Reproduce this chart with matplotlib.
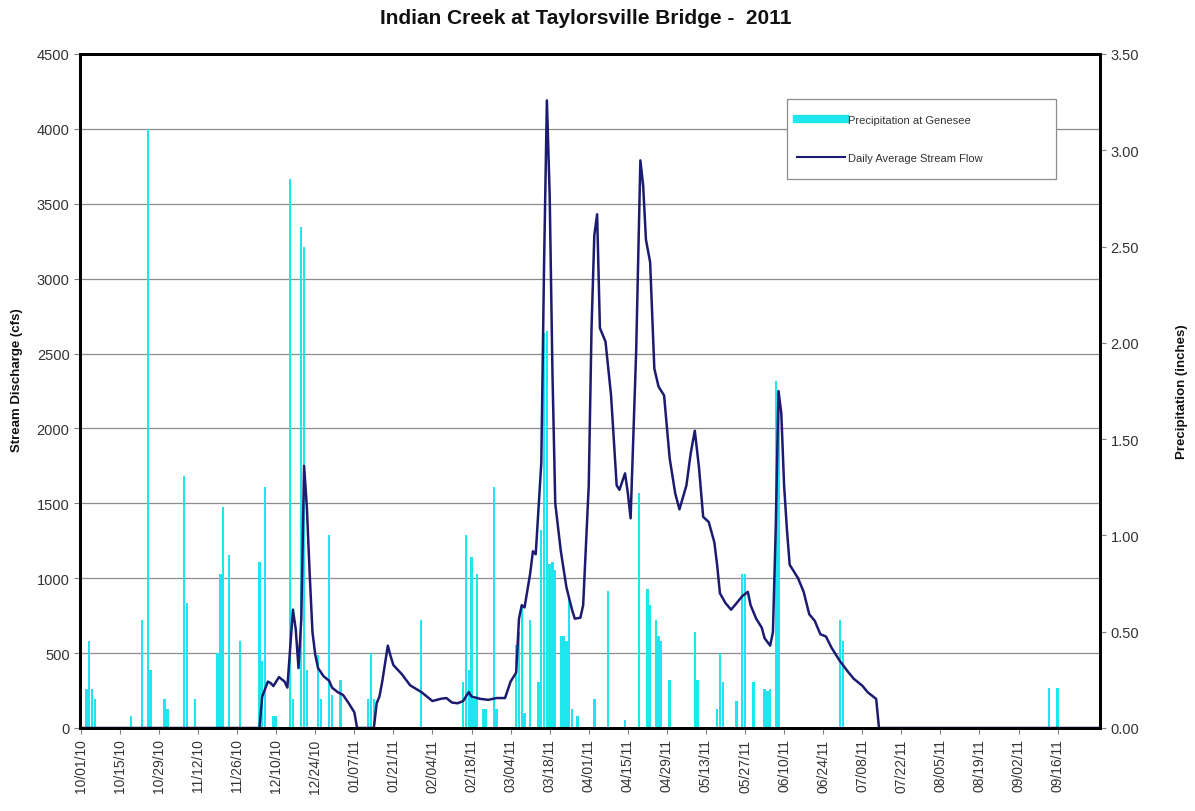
import numpy as np
import matplotlib
matplotlib.use('Agg')
import matplotlib.pyplot as plt
import matplotlib.dates as mdates
from matplotlib.ticker import FixedLocator, FormatStrFormatter
from matplotlib.lines import Line2D
from matplotlib.patches import Rectangle
import datetime as dt

plt.rcParams['font.family'] = ['Liberation Sans', 'DejaVu Sans']

# --- Data (day offsets from 10/01/10) ---
START = dt.date(2010, 10, 1)

precip_day = [2, 3, 4, 5, 18, 22, 24, 25, 30, 31, 37, 38, 41, 49, 50, 51, 53, 57,
              64, 65, 66, 69, 70, 75, 76, 79, 80, 81, 85, 86, 89, 90, 93,
              103, 104, 105, 122, 137, 138, 139, 140, 141, 142, 144, 145, 148, 149,
              156, 157, 158, 159, 161, 164, 165, 166, 167, 168, 169, 170, 172, 173,
              174, 175, 176, 178, 184, 189, 195, 200, 203, 204, 206, 207, 208, 211,
              220, 221, 228, 229, 230, 235, 237, 238, 241, 245, 246, 247, 249, 250,
              272, 273, 347, 350]
precip_in = [0.20, 0.45, 0.20, 0.15, 0.06, 0.56, 3.11, 0.30, 0.15, 0.10, 1.31, 0.65, 0.15,
             0.39, 0.80, 1.15, 0.90, 0.45,
             0.86, 0.35, 1.25, 0.06, 0.06, 2.85, 0.15, 2.60, 2.50, 0.30, 0.38, 0.15, 1.00, 0.17, 0.25,
             0.15, 0.39, 0.15, 0.56, 0.24, 1.00, 0.30, 0.89, 0.15, 0.80, 0.10, 0.10, 1.25, 0.10,
             0.43, 0.50, 0.63, 0.08, 0.56, 0.24, 1.03, 2.05, 2.06, 0.85, 0.86, 0.82, 0.48, 0.48,
             0.45, 0.68, 0.10, 0.06, 0.15, 0.71, 0.04, 1.22, 0.72, 0.64, 0.56, 0.48, 0.45, 0.25,
             0.50, 0.25, 0.10, 0.39, 0.24, 0.14, 0.80, 0.80, 0.24, 0.20, 0.19, 0.20, 1.80, 1.75,
             0.56, 0.45, 0.21, 0.21]

flow_day = [0, 64, 65, 67, 68, 69, 70, 71, 73, 74, 76, 77, 78, 79, 80, 81, 82, 83, 84, 85,
            87, 89, 90, 92, 94, 96, 98, 99, 105, 106, 107, 108, 110, 111, 112, 115, 118,
            122, 124, 126, 129, 131, 133, 135, 137, 139, 140, 143, 146, 149, 152, 154,
            156, 157, 158, 159, 161, 162, 163, 165, 166, 167, 168, 169, 170, 172, 174,
            176, 177, 179, 180, 182, 183, 184, 185, 186, 188, 190, 192, 193, 195, 196,
            197, 199, 200.5, 201.5, 202.5, 204, 205.5, 207, 209, 211, 213, 214.5, 217,
            218.5, 220, 221.5, 223, 225, 227, 228, 229, 231, 233, 235, 237, 239, 240,
            242, 244, 245, 247, 248, 249, 250, 251, 252, 253, 254, 256, 257, 259, 261,
            263, 265, 267, 269, 271, 272, 275, 277, 280, 282, 285, 286, 365]
flow_cfs = [0, 0, 210, 310, 300, 280, 310, 340, 310, 270, 790, 660, 400, 730, 1750, 1470,
            1030, 640, 490, 400, 345, 315, 270, 240, 220, 165, 105, 0, 0, 165, 210, 310,
            550, 480, 420, 360, 285, 240, 210, 180, 195, 200, 170, 165, 180, 240, 210,
            195, 188, 200, 200, 310, 370, 730, 820, 805, 1030, 1180, 1160, 1770, 3110,
            4190, 3560, 2370, 1500, 1180, 940, 790, 730, 736, 820, 1620, 2670, 3290,
            3430, 2670, 2580, 2220, 1620, 1590, 1700, 1570, 1400, 2520, 3790, 3620,
            3260, 3110, 2400, 2280, 2220, 1800, 1565, 1460, 1620, 1830, 1985, 1740,
            1410, 1375, 1240, 1090, 900, 834, 790, 834, 880, 909, 820, 730, 670, 600,
            550, 640, 1330, 2250, 2100, 1620, 1330, 1090, 1030, 1000, 910, 760, 715,
            626, 611, 536, 477, 447, 373, 328, 283, 238, 194, 0, 0]

legend_labels = ['Precipitation at Genesee', 'Daily Average Stream Flow']
title = 'Indian Creek at Taylorsville Bridge -  2011'

BAR_COLOR = '#1EE6EE'
LINE_COLOR = '#1B1B72'
TEXT_COLOR = '#333333'

base = mdates.date2num(START)
px = base + np.array(precip_day, dtype=float)
fx = base + np.array(flow_day, dtype=float)

fig = plt.figure(figsize=(11.95, 8.12), dpi=100)
ax_p = fig.add_axes([80 / 1195, 1 - 729 / 812, 1020 / 1195, 674 / 812])
ax_f = ax_p.twinx()

# precipitation bars on the lower axes (right scale)
ax_p.bar(px, precip_in, width=0.85, color=BAR_COLOR, linewidth=0, zorder=2)
ax_p.set_ylim(0, 3.5)
ax_p.set_yticks(np.arange(0, 3.51, 0.5))
ax_p.yaxis.set_major_formatter(FormatStrFormatter('%.2f'))
ax_p.yaxis.tick_right()
# gridlines follow the left (flow) scale: every 500 cfs
ax_p.yaxis.set_minor_locator(FixedLocator(np.arange(1, 9) * 3.5 / 9))
ax_p.grid(which='minor', axis='y', color='#8c8c8c', linewidth=0.9)
ax_p.tick_params(axis='y', which='minor', length=0)
ax_p.set_axisbelow(True)

# stream flow line on upper axes (left scale)
ax_f.set_zorder(ax_p.get_zorder() + 1)
ax_f.patch.set_visible(False)
ax_f.plot(fx, flow_cfs, color=LINE_COLOR, linewidth=1.8, solid_joinstyle='round')
ax_f.set_ylim(0, 4500)
ax_f.set_yticks(np.arange(0, 4501, 500))
ax_f.yaxis.tick_left()

ax_p.set_xlim(base - 0.3, base + 365.2)
ticks = [base + 14 * i for i in range(26)]
ax_p.set_xticks(ticks)
ax_p.xaxis.set_major_formatter(mdates.DateFormatter('%m/%d/%y'))
for lab in ax_p.get_xticklabels():
    lab.set_rotation(90)

for a in (ax_p, ax_f):
    for s in a.spines.values():
        s.set_linewidth(2.0)
        s.set_color('black')
    a.tick_params(axis='y', which='major', labelsize=10.5, labelcolor=TEXT_COLOR,
                  color='#808080', length=4, width=0.8)
ax_p.tick_params(axis='x', which='major', labelsize=10, labelcolor=TEXT_COLOR,
                 color='#808080', length=4, width=0.8)

fig.text(586 / 1195, 1 - 18 / 812, title, ha='center', va='center',
         fontsize=15, fontweight='bold', color='#111111')
fig.text(17 / 1195, 1 - 380 / 812, 'Stream Discharge (cfs)', rotation=90,
         ha='center', va='center', fontsize=9.5, fontweight='bold', color='#111111')
fig.text(1182 / 1195, 1 - 392 / 812, 'Precipitation (inches)', rotation=90,
         ha='center', va='center', fontsize=9.5, fontweight='bold', color='#111111')

# legend box
ax_f.add_patch(Rectangle((0.693, 0.815), 0.264, 0.118, transform=ax_f.transAxes,
                         facecolor='white', edgecolor='#8c8c8c', linewidth=0.9,
                         zorder=5))
handles = [Line2D([], [], color=BAR_COLOR, linewidth=6),
           Line2D([], [], color=LINE_COLOR, linewidth=1.5)]
leg = ax_f.legend(handles, legend_labels, loc='center left',
                  bbox_to_anchor=(0.703, 0.874), fontsize=8, frameon=False,
                  handlelength=4.3, handletextpad=0.3, labelspacing=2.5,
                  borderpad=0, borderaxespad=0)
leg.set_zorder(6)
for t in leg.get_texts():
    t.set_color(TEXT_COLOR)

fig.savefig('out.png', dpi=100)
